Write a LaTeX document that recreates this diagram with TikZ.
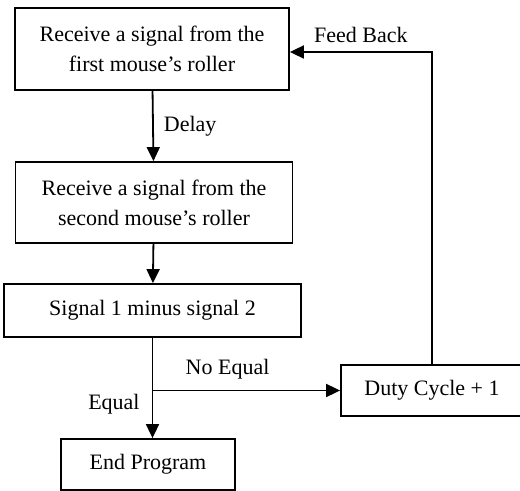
\documentclass[tikz,border=0pt]{standalone}
\usepackage{fontspec}
\setmainfont{Liberation Serif}
\usetikzlibrary{positioning,arrows.meta}

\begin{document}
\begin{tikzpicture}[->,>={Triangle[length=7pt,width=6.5pt]},line width=0.9pt,x=1pt,y=1pt,node distance=76.75pt,
  stepbox/.style={draw,rectangle,align=center,inner sep=0pt,font=\fontsize{11}{15}\selectfont},
  tag/.style={inner sep=0pt,font=\fontsize{11}{13}\selectfont}]
  \useasboundingbox (0,0) rectangle (260,-245.5);

  \node[stepbox,minimum width=137pt,minimum height=41pt] (1) at (76,-24.5) {Receive a signal from the\\first mouse’s roller};
  \node[stepbox,minimum width=138.5pt,minimum height=40.5pt] (2) [below of = 1, xshift=1pt] {Receive a signal from the\\second mouse’s roller};
  \node[stepbox,minimum width=148.5pt,minimum height=26.5pt] (3) [below of = 2, yshift=22.75pt, xshift=-0.75pt] {Signal 1 minus signal 2};
  \node[stepbox,minimum width=91pt,minimum height=25.5pt] (4) [right of = 3, xshift=63pt, yshift=-40pt] {Duty Cycle + 1};
  \node[stepbox,minimum width=87pt,minimum height=25.5pt] (5) [below of = 3, yshift=-0.25pt, xshift=-2.25pt] {End Program};
  \coordinate (split) at (3.south |- 4.west);
  \coordinate (fbin) at ([yshift=-1.5pt]1.east);

  \path[every node/.style={tag}]
    (1) edge node[right=5pt] {Delay} (2)
    (2) edge (3)
    (3.south) edge node[pos=0.66,left=6pt] {Equal} (3.south |- 5.north)
    (split) edge node[pos=0.4,above=5pt] {No Equal} (4)
  ;
  \draw (4) |- node[tag,pos=0.75,above=4pt] {Feed Back} (fbin);
\end{tikzpicture}
\end{document}
